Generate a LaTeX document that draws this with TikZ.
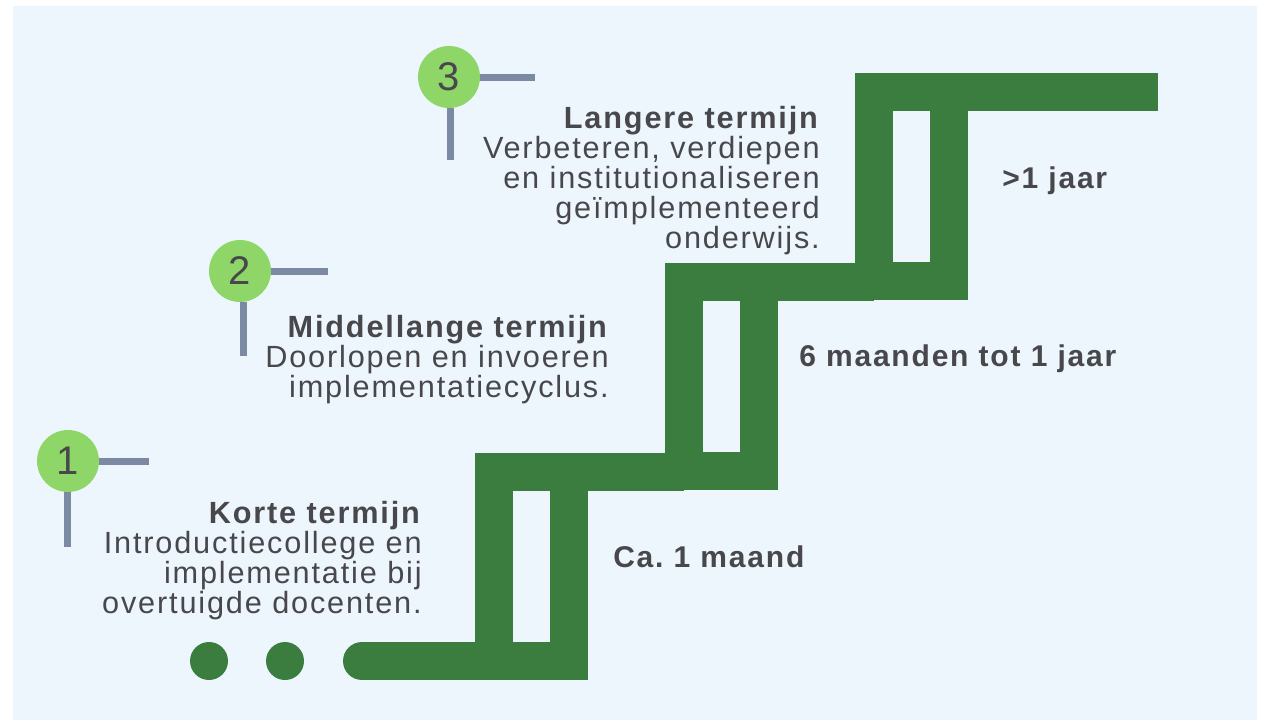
\documentclass[tikz,border=0pt]{standalone}
\usepackage{fontspec}
\setmainfont{Liberation Sans}
\newfontfamily\stepfont[LetterSpace=6]{Liberation Sans}
\usepackage{tikz}
\frenchspacing

\definecolor{bgblue}{RGB}{238,246,253}
\definecolor{stairgreen}{RGB}{58,125,62}
\definecolor{badgegreen}{RGB}{142,214,104}
\definecolor{tickgrey}{RGB}{123,137,163}
\definecolor{textgrey}{RGB}{72,72,76}

\newcommand{\blockfont}{\stepfont\fontsize{23}{22.5}\selectfont}
\newcommand{\labelfont}{\stepfont\fontsize{22.5}{24}\selectfont\bfseries}

\tikzset{
  stair/.style={draw=stairgreen, line width=28.5pt},
  badge/.style={circle, fill=badgegreen, minimum size=46.5pt, inner sep=0pt,
    text=textgrey, font=\fontsize{30}{30}\selectfont},
  tick/.style={draw=tickgrey, line width=5.25pt},
  block/.style={anchor=base east, inner sep=0pt, align=right, text=textgrey, font=\blockfont},
  period/.style={anchor=base west, inner sep=0pt, text=textgrey, font=\labelfont}
}

\begin{document}
\begin{tikzpicture}[x=0.75pt,y=0.75pt,yscale=-1,xscale=1]
        \useasboundingbox (0,0) rectangle (1261,722);
        %set diagram background
        \fill [white] (0,0) rectangle (1261,722);
        \fill [bgblue] (13,6) rectangle (1257,720);

        %Shape: dots before the stairs
        \fill [stairgreen] (209,661) circle [radius=19];
        \fill [stairgreen] (285,661) circle [radius=19];
        %Straight Lines: first tread
        \draw [stair, line cap=round] (362,661) -- (494,661);
        %Shape: three risers with their treads
        \foreach \i in {0,1,2}{
          \draw [stair] (494+190*\i,472-190*\i) rectangle (569+190*\i,661-190*\i);
        }
        \foreach \i in {0,1}{
          \draw [stair] (569+190*\i,472-190*\i) -- (684+190*\i,472-190*\i);
        }
        %Straight Lines: top tread
        \draw [stair] (949,92) -- (1158,92);

        %Shape: badges
        \node [badge] (b1) at (68,461) {1};
        \node [badge] (b2) at (240,271) {2};
        \node [badge] (b3) at (449,77) {3};
        \coordinate (b1h) at (149,461);
        \coordinate (b1v) at (67,547);
        \coordinate (b2h) at (328,271);
        \coordinate (b2v) at (243,356);
        \coordinate (b3h) at (535,77);
        \coordinate (b3v) at (450,160);
        %Straight Lines
        \draw [tick] (b1.east) -- (b1h);
        \draw [tick] (b1.south -| b1v) -- (b1v);
        \draw [tick] (b2.east) -- (b2h);
        \draw [tick] (b2.south -| b2v) -- (b2v);
        \draw [tick] (b3.east) -- (b3h);
        \draw [tick] (b3.south -| b3v) -- (b3v);

        % Text Node
        \node [block] (t1) at (422,613) {\textbf{Korte termijn}\\Introductiecollege en\\implementatie bij\\overtuigde docenten.};
        % Text Node
        \node [block] (t2) at (609,397) {\textbf{Middellange termijn}\\Doorlopen en invoeren\\implementatiecyclus.};
        % Text Node
        \node [block] (t3) at (820,248) {\textbf{Langere termijn}\\Verbeteren, verdiepen\\en institutionaliseren\\geïmplementeerd\\onderwijs.};

        % Text Node
        \node [period] (p1) at (613,567) {Ca. 1 maand};
        % Text Node
        \node [period] (p2) at (799,366) {6 maanden tot 1 jaar};
        % Text Node
        \node [period] (p3) at (1002,188) {>1 jaar};

\end{tikzpicture}
\end{document}
